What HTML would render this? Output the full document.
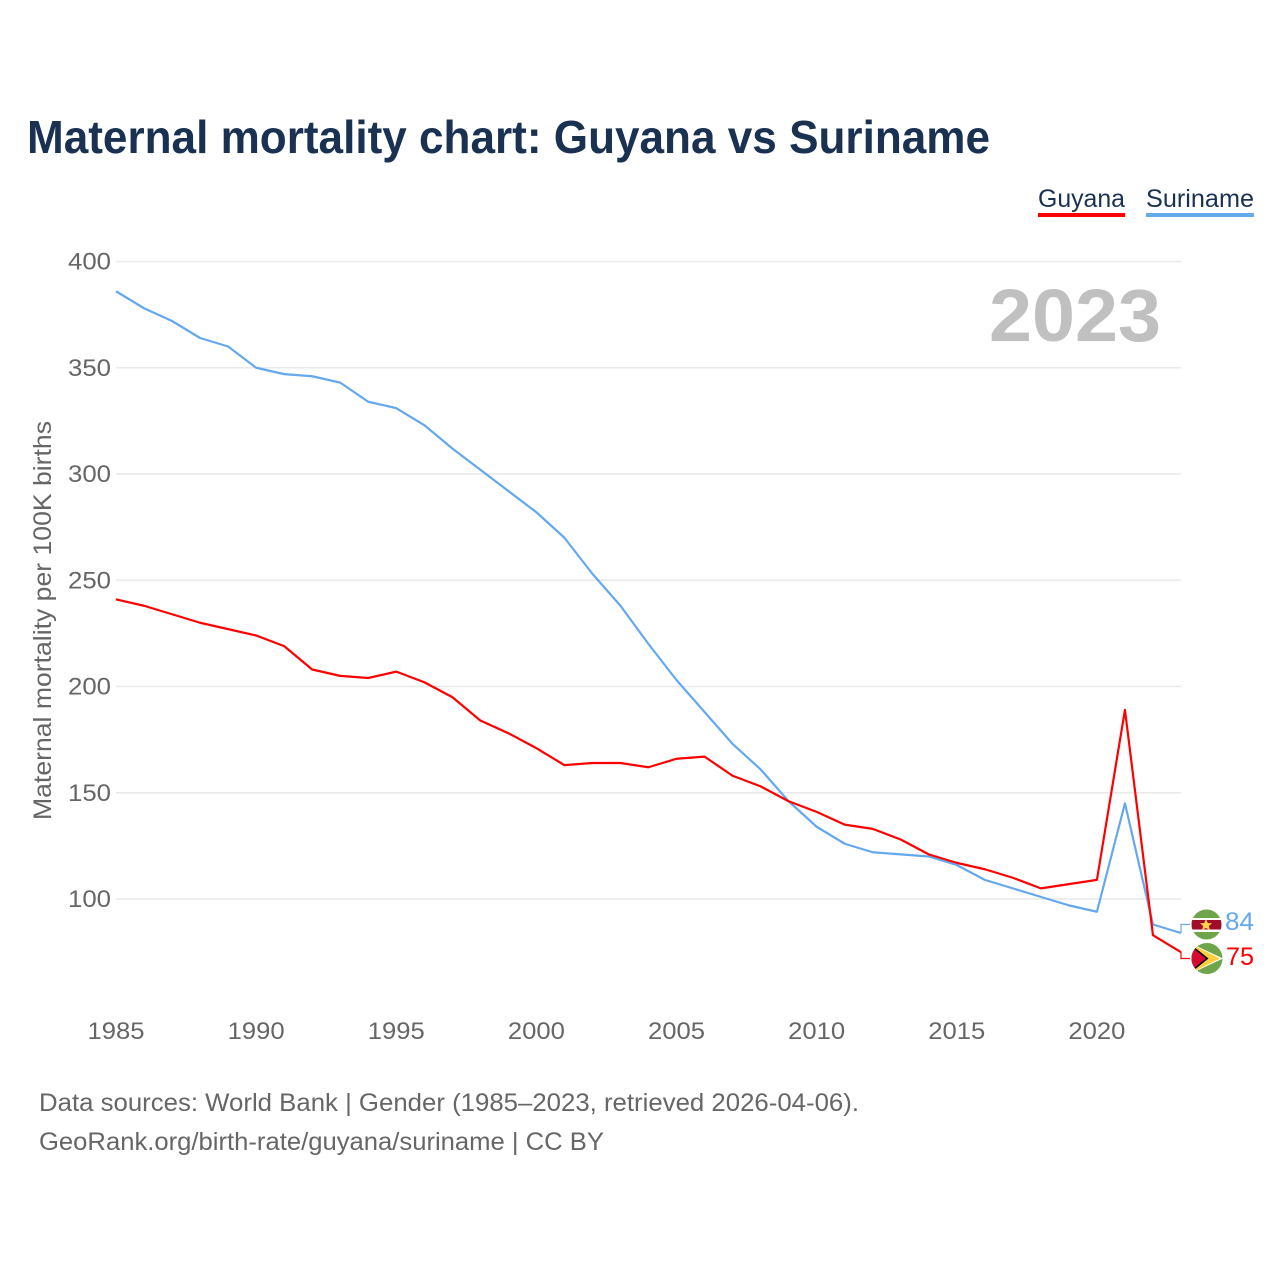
<!DOCTYPE html>
<html lang="en">
<head>
<meta charset="utf-8">
<title>Maternal mortality chart: Guyana vs Suriname</title>
<style>
html,body{margin:0;padding:0;background:#fff;width:1280px;height:1280px;overflow:hidden}
svg{display:block;font-family:"Liberation Sans",sans-serif}
</style>
</head>
<body>
<svg id="chart" width="1280" height="1280" viewBox="0 0 1280 1280" xmlns="http://www.w3.org/2000/svg">
  <defs>
    <clipPath id="clip-sr"><circle cx="1206.5" cy="924.5" r="15"/></clipPath>
    <clipPath id="clip-gy"><circle cx="1207" cy="958.5" r="15.5"/></clipPath>
  </defs>
  <text x="27" y="153" font-size="46" font-weight="700" fill="#1a3152" textLength="963" lengthAdjust="spacingAndGlyphs">Maternal mortality chart: Guyana vs Suriname</text>

  <g>
    <text x="1038" y="207" font-size="25" fill="#1a3152" textLength="87" lengthAdjust="spacingAndGlyphs">Guyana</text>
    <rect x="1038" y="213" width="87" height="4" fill="#ff0000"/>
    <text x="1146" y="207" font-size="25" fill="#1a3152" textLength="108" lengthAdjust="spacingAndGlyphs">Suriname</text>
    <rect x="1146" y="213" width="108" height="4" fill="#64a8ee"/>
  </g>

  <g id="grid"></g>
  <g id="yticks"></g>
  <g id="xticks"></g>

  <text transform="translate(51,820) rotate(-90)" font-size="25" fill="#666666" textLength="399" lengthAdjust="spacingAndGlyphs">Maternal mortality per 100K births</text>
  <text x="1161" y="341" text-anchor="end" font-size="74" font-weight="700" fill="#c0c0c0" textLength="172" lengthAdjust="spacingAndGlyphs">2023</text>

  <g id="series"></g>

  <g clip-path="url(#clip-sr)">
    <rect x="1190" y="909" width="33" height="31" fill="#6fa54a"/>
    <rect x="1190" y="918" width="33" height="14" fill="#ffffff"/>
    <rect x="1190" y="920" width="33" height="9.5" fill="#a00d2a"/>
    <polygon points="1206,919 1207.8,923 1212,923.4 1208.8,926 1210,930 1206,928 1202,930 1203.2,926 1200,923.4 1204.2,923" fill="#ffd34d"/>
  </g>
  <g clip-path="url(#clip-gy)">
    <rect x="1190" y="942" width="34" height="34" fill="#6fa54a"/>
    <polygon points="1190,943 1223,958.5 1190,974" fill="#ffffff"/>
    <polygon points="1191,944 1220,958.5 1191,973" fill="#fdce3e"/>
    <polygon points="1191,944.5 1208.5,958.5 1191,972.5" fill="#000000"/>
    <polygon points="1191,946.5 1206,958.5 1191,970.5" fill="#d50a30"/>
  </g>

  <text x="1225" y="930" font-size="25" fill="#64a8ee" textLength="29" lengthAdjust="spacingAndGlyphs">84</text>
  <text x="1226" y="965" font-size="25" fill="#ff0000" textLength="28" lengthAdjust="spacingAndGlyphs">75</text>

  <text x="39" y="1111" font-size="25" fill="#666666" textLength="820" lengthAdjust="spacingAndGlyphs">Data sources: World Bank | Gender (1985–2023, retrieved 2026-04-06).</text>
  <text x="39" y="1150" font-size="25" fill="#666666" textLength="565" lengthAdjust="spacingAndGlyphs">GeoRank.org/birth-rate/guyana/suriname | CC BY</text>
</svg>
<script>
const years = [1985,1986,1987,1988,1989,1990,1991,1992,1993,1994,1995,1996,1997,1998,1999,2000,2001,2002,2003,2004,2005,2006,2007,2008,2009,2010,2011,2012,2013,2014,2015,2016,2017,2018,2019,2020,2021,2022,2023];
const guyana = [241,238,234,230,227,224,219,208,205,204,207,202,195,184,178,171,163,164,164,162,166,167,158,153,146,141,135,133,128,121,117,114,110,105,107,109,189,83,75];
const suriname = [386,378,372,364,360,350,347,346,343,334,331,323,312,302,292,282,270,253,238,220,203,188,173,161,146,134,126,122,121,120,116,109,105,101,97,94,145,88,84];
const yTickValues = [100,150,200,250,300,350,400];
const xTickValues = [1985,1990,1995,2000,2005,2010,2015,2020];

const NS = 'http://www.w3.org/2000/svg';
function xScale(year){ return 116 + (year - 1985) * (1181 - 116) / (2023 - 1985); }
function yScale(v){ return 899 - (v - 100) * 2.125; }

const grid = document.getElementById('grid');
const yticks = document.getElementById('yticks');
const xticks = document.getElementById('xticks');
const seriesGroup = document.getElementById('series');

yTickValues.forEach(function(v){
  const line = document.createElementNS(NS, 'line');
  
  
  line.setAttribute('x1', 116);
  line.setAttribute('x2', 1181);
  line.setAttribute('y1', yScale(v));
  line.setAttribute('y2', yScale(v));
  line.setAttribute('stroke', '#e9e9e9');
  line.setAttribute('stroke-width', '1.4');
  grid.appendChild(line);
  const t = document.createElementNS(NS, 'text');
  
  
  t.setAttribute('x', 111);
  t.setAttribute('y', yScale(v) + 8);
  t.setAttribute('text-anchor', 'end');
  t.setAttribute('font-size', '24');
  t.setAttribute('fill', '#666666');
  t.setAttribute('textLength', '43');
  t.setAttribute('lengthAdjust', 'spacingAndGlyphs');
  t.textContent = v;
  yticks.appendChild(t);
});

xTickValues.forEach(function(year){
  const t = document.createElementNS(NS, 'text');
  
  
  t.setAttribute('x', xScale(year));
  t.setAttribute('y', 1039);
  t.setAttribute('text-anchor', 'middle');
  t.setAttribute('font-size', '24');
  t.setAttribute('fill', '#666666');
  t.setAttribute('textLength', '57');
  t.setAttribute('lengthAdjust', 'spacingAndGlyphs');
  t.textContent = year;
  xticks.appendChild(t);
});

function drawSeries(values, color, name, labelY){
  const pts = values.map(function(v, i){ return xScale(years[i]).toFixed(2) + ',' + yScale(v).toFixed(2); });
  const line = document.createElementNS(NS, 'polyline');
  
  
  line.setAttribute('points', pts.join(' '));
  line.setAttribute('fill', 'none');
  line.setAttribute('stroke', color);
  line.setAttribute('stroke-width', '2.2');
  line.setAttribute('stroke-linejoin', 'round');
  seriesGroup.appendChild(line);
  const lastX = xScale(years[years.length - 1]);
  const lastY = yScale(values[values.length - 1]);
  const conn = document.createElementNS(NS, 'polyline');
  
  
  conn.setAttribute('points', lastX + ',' + lastY + ' ' + lastX + ',' + labelY + ' ' + (lastX + 9) + ',' + labelY);
  conn.setAttribute('fill', 'none');
  conn.setAttribute('stroke', color);
  conn.setAttribute('stroke-width', '1.2');
  seriesGroup.appendChild(conn);
}
drawSeries(suriname, '#64a8ee', 'suriname', 924.5);
drawSeries(guyana, '#ff0000', 'guyana', 958.5);
</script>
</body>
</html>
